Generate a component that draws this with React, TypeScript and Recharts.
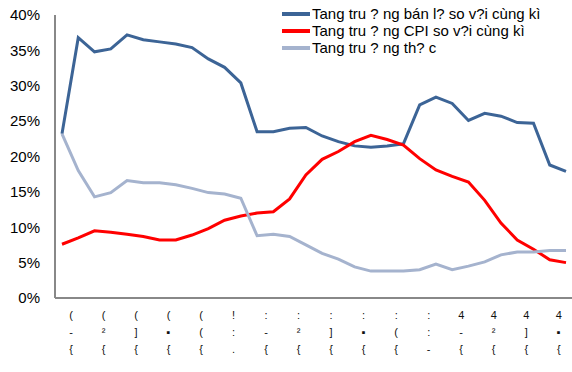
import React from 'react'
import { LineChart, Line, XAxis, YAxis, Legend } from 'recharts'

// 32 monthly points, one label every 2 months
const tickLabels = [
  '(-{', '(²{', '(]{', '(▪{', '(({', '!:.', ':-{', ':²{',
  ':]{', ':▪{', ':({', '::-', '4-{', '4²{', '4]{', '4▪{',
]

const retail = [
  23.2, 36.8, 34.8, 35.2, 37.2, 36.5, 36.2, 35.9, 35.4, 33.8, 32.6, 30.4,
  23.5, 23.5, 24.0, 24.1, 22.9, 22.1, 21.5, 21.3, 21.5, 21.8, 27.3, 28.4,
  27.5, 25.1, 26.1, 25.7, 24.8, 24.7, 18.8, 17.9,
]
const cpi = [
  7.6, 8.5, 9.5, 9.3, 9.0, 8.7, 8.2, 8.2, 8.9, 9.8, 11.0, 11.6,
  12.0, 12.2, 14.0, 17.4, 19.6, 20.7, 22.1, 23.0, 22.4, 21.6, 19.7, 18.1,
  17.2, 16.4, 13.8, 10.6, 8.2, 6.9, 5.4, 5.0,
]
const real = [
  23.2, 18.0, 14.3, 14.9, 16.6, 16.3, 16.3, 16.0, 15.5, 14.9, 14.7, 14.1,
  8.8, 9.0, 8.7, 7.5, 6.3, 5.5, 4.4, 3.8, 3.8, 3.8, 4.0, 4.8,
  4.0, 4.5, 5.1, 6.1, 6.5, 6.5, 6.7, 6.7,
]
const yTicks = [0, 5, 10, 15, 20, 25, 30, 35, 40]

const series = [
  { key: 'retail', name: 'Tang tru ? ng bán l? so v?i cùng kì', color: '#3C6496' },
  { key: 'cpi', name: 'Tang tru ? ng CPI so v?i cùng kì', color: '#FF0000' },
  { key: 'real', name: 'Tang tru ? ng th? c', color: '#A5B3CE' },
]

const data = retail.map((v, i) => ({ idx: i, retail: v, cpi: cpi[i], real: real[i] }))

function XTick(props: any) {
  const { x, y, payload } = props
  const i = payload.value as number
  if (i % 2 !== 0) return null
  const chars = tickLabels[i / 2].split('')
  return (
    <text x={x + 9} y={y} textAnchor="middle" fill="#111" fontSize={11} fontFamily="Liberation Sans, Arial">
      {chars.map((c, k) => (
        <tspan key={k} x={x + 9} y={y + 13 + k * 17}>{c}</tspan>
      ))}
    </text>
  )
}

function LegendBox() {
  return (
    <div style={{ fontFamily: 'Liberation Sans, Arial', fontSize: 15, color: '#000' }}>
      {series.map((s) => (
        <div key={s.key} style={{ display: 'flex', alignItems: 'center', height: 17 }}>
          <div style={{ width: 28, height: 4, background: s.color, marginRight: 2 }} />
          <span style={{ whiteSpace: 'nowrap' }}>{s.name}</span>
        </div>
      ))}
    </div>
  )
}

export default function App() {
  return (
    <div style={{ position: 'absolute', left: 0, top: 0, background: '#fff' }}>
      <LineChart width={572} height={372} data={data} margin={{ top: 15, right: 0, bottom: 0, left: 0 }}>
        <XAxis
          dataKey="idx"
          type="category"
          interval={0}
          height={74}
          padding={{ left: 7, right: 6 }}
          tick={<XTick />}
          tickLine={false}
          axisLine={{ stroke: '#888', strokeWidth: 2 }}
        />
        <YAxis
          domain={[0, 40]}
          ticks={yTicks}
          width={55}
          tickSize={0}
          tickMargin={15}
          tickFormatter={(v) => `${v}%`}
          tick={{ fill: '#000', fontSize: 15, fontFamily: 'Liberation Sans, Arial' }}
          tickLine={false}
          axisLine={{ stroke: '#888', strokeWidth: 2 }}
        />
        <Legend
          layout="vertical"
          align="center"
          verticalAlign="middle"
          content={<LegendBox />}
          wrapperStyle={{ position: 'absolute', top: 5, left: 282, width: 290 }}
        />
        {series.map((s) => (
          <Line
            key={s.key}
            dataKey={s.key}
            name={s.name}
            stroke={s.color}
            strokeWidth={3}
            dot={false}
            type="linear"
            isAnimationActive={false}
          />
        ))}
      </LineChart>
    </div>
  )
}
